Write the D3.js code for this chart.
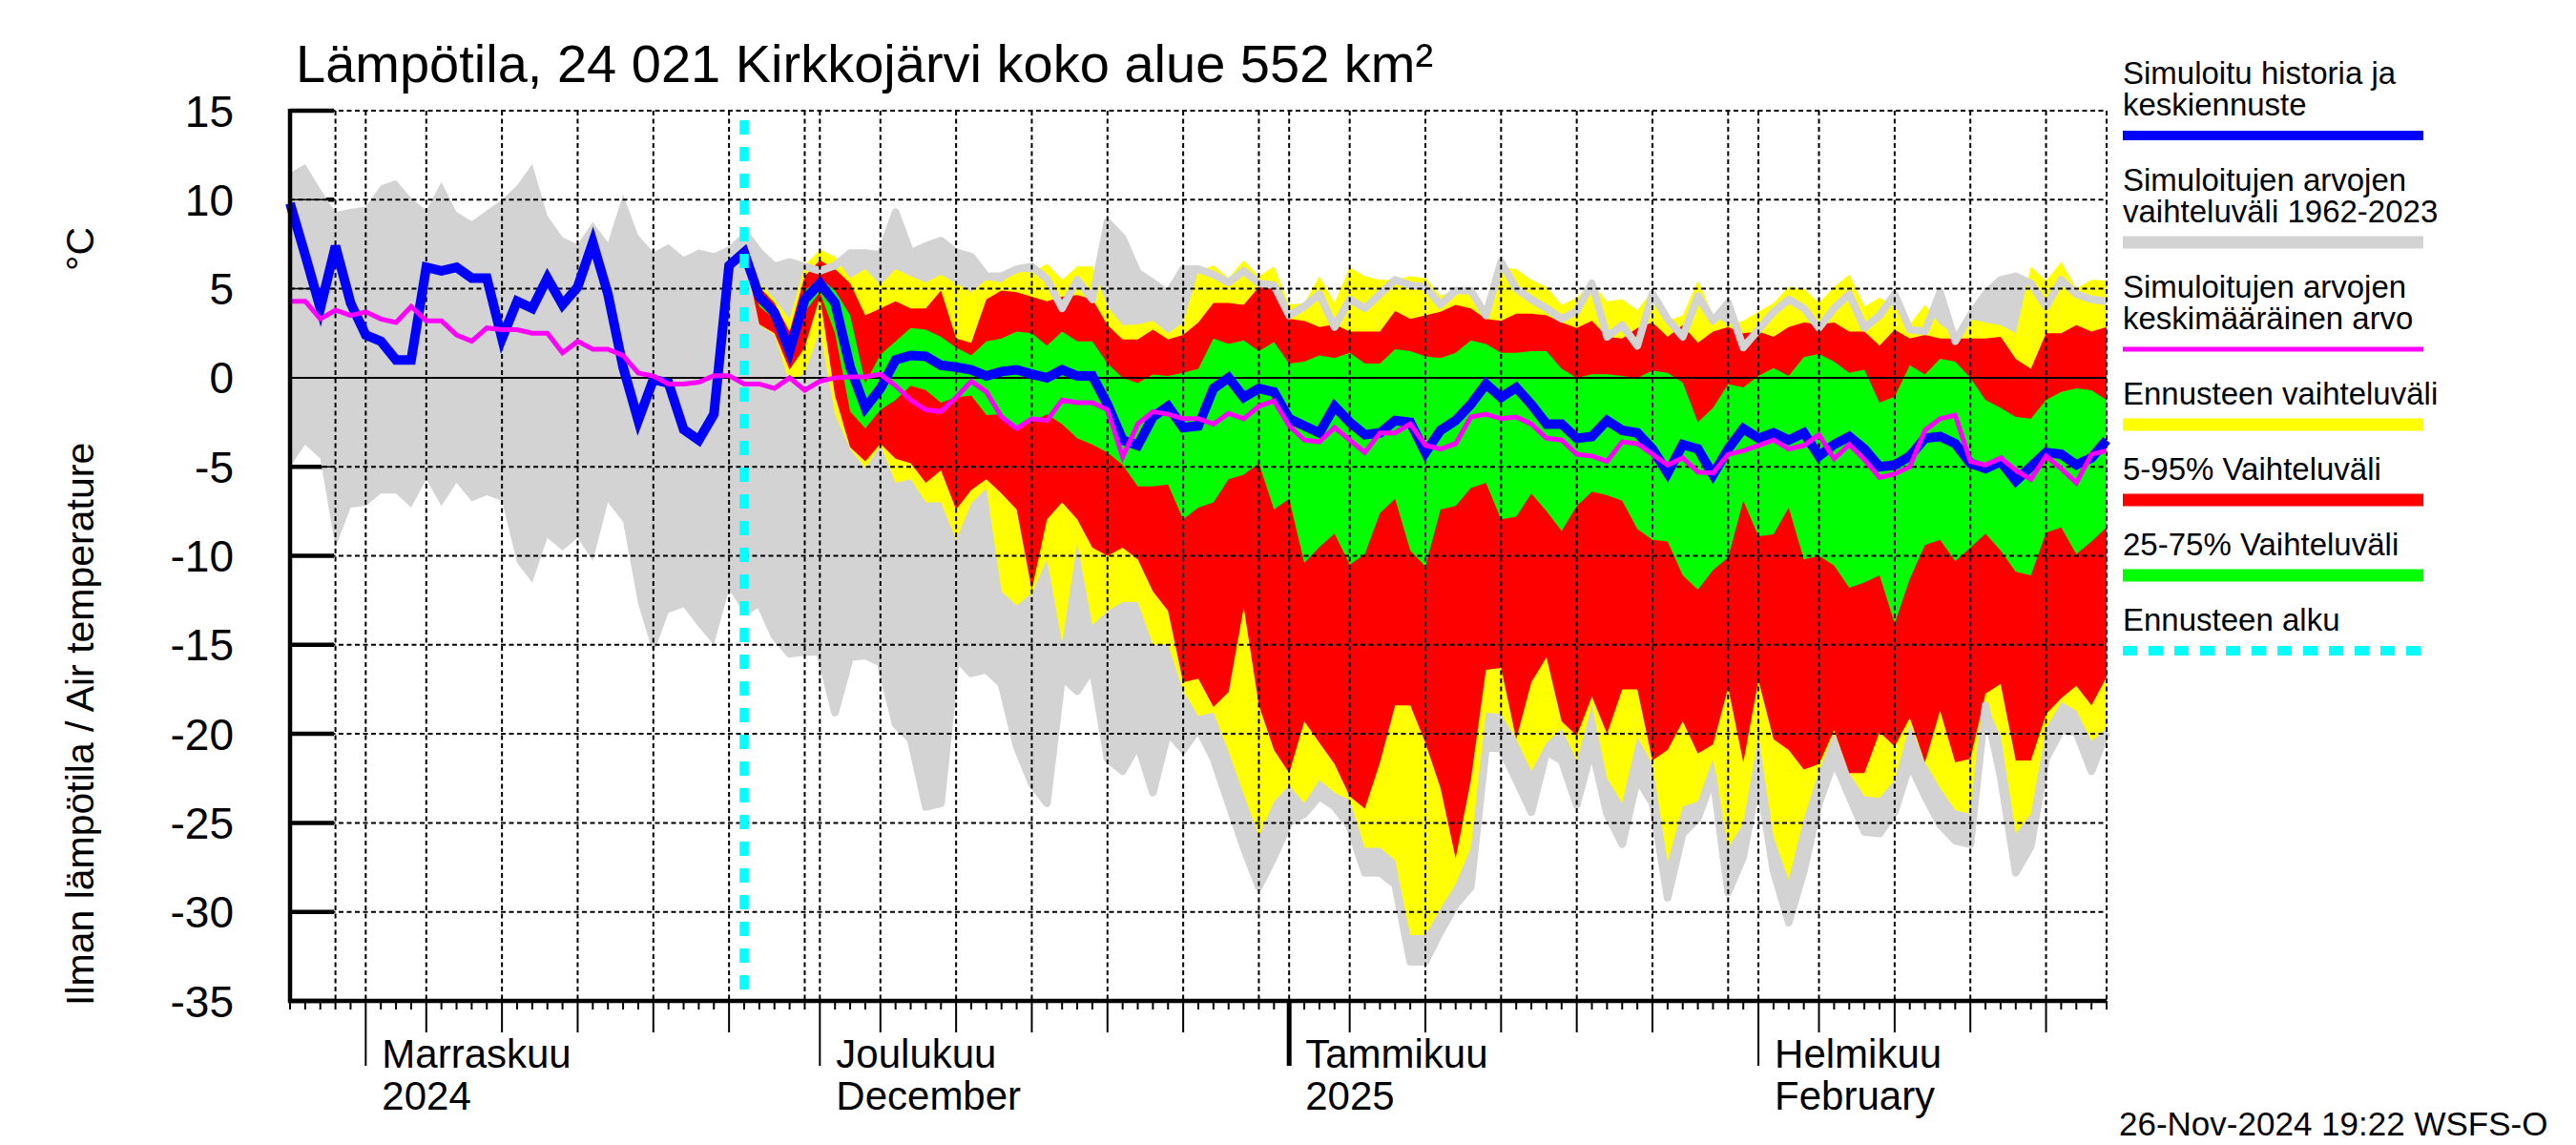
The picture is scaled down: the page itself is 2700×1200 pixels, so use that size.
<!DOCTYPE html>
<html>
<head>
<meta charset="utf-8">
<script src="https://cdnjs.cloudflare.com/ajax/libs/d3/7.8.5/d3.min.js"></script>
<style>
body { margin: 0; background: #fff; }
svg { display: block; font-family: "Liberation Sans", Arial, sans-serif; }
</style>
</head>
<body>
<svg width="2700" height="1200"></svg>
<script>
// paivittaiset arvot 27.10.2024 - 24.2.2025
var firstDay = "2024-10-27", lastDay = "2025-02-24", forecastDay = "2024-11-26";

// historia 1962-2023, max / min
var histMax = [11.5,12.0,10.6,9.3,9.5,9.6,10.8,11.1,10.1,9.4,
  11.0,9.3,8.8,9.4,10.0,10.8,12.0,9.1,7.9,7.5,
  8.75,7.6,10.3,8.0,7.05,7.5,6.8,7.2,7.0,7.4,
  8.2,7.05,6.25,6.5,6.25,6.0,6.3,7.0,7.0,6.9,
  9.3,7.0,7.4,7.7,7.05,6.8,5.7,5.7,6.1,6.25,
  5.55,3.9,5.5,4.4,8.75,7.85,5.9,5.35,4.7,6.1,
  6.1,5.8,5.35,6.0,5.3,5.2,3.5,4.0,4.7,2.85,
  4.4,3.9,4.7,5.5,5.2,5.1,4.1,4.9,4.9,3.5,
  6.5,5.0,4.4,3.9,3.3,3.75,5.3,2.3,2.95,1.8,
  4.7,3.3,2.3,4.6,3.2,4.2,1.7,2.7,3.7,4.4,
  3.9,2.8,3.9,4.7,2.8,3.5,4.7,2.7,2.6,4.8,
  2.05,3.5,4.7,5.5,5.7,5.3,4.0,5.5,4.7,4.4,
  4.3];
var histMin = [-5.0,-3.75,-4.55,-9.55,-7.3,-7.2,-6.5,-6.5,-7.3,-5.7,
  -7.2,-5.9,-6.95,-6.6,-6.9,-10.4,-11.5,-9.0,-9.7,-9.0,
  -10.3,-7.0,-8.1,-12.7,-15.5,-13.2,-12.9,-14.0,-15.0,-11.9,
  -13.2,-12.6,-14.5,-15.5,-15.4,-15.4,-18.8,-15.7,-15.6,-16.0,
  -19.45,-20.3,-24.1,-23.9,-15.7,-16.6,-16.4,-17.2,-20.7,-22.8,
  -23.9,-16.8,-17.6,-16.3,-21.4,-22.1,-20.6,-23.3,-19.9,-20.9,
  -19.7,-21.4,-23.9,-26.4,-28.6,-26.9,-25.0,-24.5,-23.5,-24.1,
  -25.2,-27.8,-27.8,-28.45,-32.8,-32.8,-31.1,-29.6,-28.6,-20.8,
  -20.8,-22.6,-24.4,-21.0,-21.5,-24.0,-20.8,-24.5,-26.2,-22.5,
  -23.9,-29.2,-25.6,-24.75,-22.4,-28.9,-26.9,-22.4,-27.7,-30.6,
  -27.7,-23.9,-21.5,-23.5,-25.5,-25.6,-24.4,-21.7,-23.5,-25.1,
  -26.0,-26.2,-18.4,-22.4,-27.8,-26.3,-21.4,-19.8,-19.9,-22.1,
  -19.9];

// simuloitujen arvojen keskiarvo (magenta)
var simMean = [4.3,4.3,3.3,3.8,3.5,3.7,3.3,3.1,4.0,3.2,
  3.2,2.4,2.05,2.8,2.7,2.7,2.5,2.5,1.4,2.05,
  1.6,1.6,1.25,0.27,0.1,-0.35,-0.35,-0.25,0.12,0.12,
  -0.35,-0.35,-0.6,0.0,-0.7,-0.2,0.0,0.05,0.05,0.2,
  -0.45,-1.25,-1.8,-1.9,-1.1,-0.2,-0.8,-2.2,-2.85,-2.3,
  -2.4,-1.25,-1.4,-1.4,-1.8,-4.45,-2.6,-1.9,-2.05,-2.3,
  -2.3,-2.6,-2.0,-2.3,-1.6,-1.3,-2.7,-3.5,-3.6,-2.8,
  -3.5,-4.2,-3.1,-3.1,-2.6,-3.8,-4.0,-3.7,-2.2,-2.05,
  -2.3,-2.2,-2.6,-3.4,-3.5,-4.3,-4.4,-4.7,-3.6,-3.7,
  -4.3,-4.9,-4.5,-5.3,-5.35,-4.3,-4.1,-3.8,-3.5,-4.0,
  -3.8,-3.2,-4.55,-3.75,-4.6,-5.6,-5.4,-5.0,-2.95,-2.3,
  -2.1,-4.7,-4.9,-4.5,-5.2,-5.7,-4.4,-5.1,-5.9,-4.3,
  -4.1];

// simuloitu historia + keskiennuste (sininen)
var median = [9.8,6.9,3.9,7.4,4.2,2.4,2.05,1.0,1.0,6.2,
  6.0,6.2,5.6,5.6,2.2,4.3,3.9,5.6,4.1,5.1,
  7.6,4.7,0.6,-2.4,-0.1,-0.3,-2.9,-3.5,-2.05,6.3,
  7.05,4.55,3.66,1.5,4.4,5.3,4.2,0.6,-1.7,-0.6,
  1.0,1.25,1.2,0.7,0.6,0.45,0.1,0.35,0.45,0.2,
  0.0,0.45,0.1,0.1,-1.5,-3.5,-3.8,-2.2,-1.6,-2.8,
  -2.7,-0.6,0.0,-1.1,-0.6,-0.8,-2.3,-2.7,-3.1,-1.6,
  -2.5,-3.2,-3.1,-2.4,-2.5,-4.2,-2.95,-2.4,-1.5,-0.35,
  -1.1,-0.55,-1.5,-2.6,-2.6,-3.4,-3.3,-2.4,-2.95,-3.1,
  -4.0,-5.35,-3.75,-4.0,-5.45,-4.0,-2.86,-3.4,-3.1,-3.5,
  -3.1,-4.4,-3.75,-3.3,-4.0,-5.0,-4.9,-4.4,-3.4,-3.3,
  -3.7,-4.8,-5.1,-4.7,-5.8,-5.0,-4.2,-4.3,-4.9,-4.5,
  -3.5];

// ennuste 26.11. alkaen
var fcMax = [7.0,5.35,4.4,3.3,6.3,7.2,6.8,5.6,6.1,5.2,
  6.1,5.7,5.35,5.8,5.3,4.8,5.5,5.35,6.0,5.9,
  6.4,5.5,6.25,6.25,4.0,2.95,3.0,3.2,2.5,3.1,
  6.0,6.3,5.6,6.6,5.7,6.25,4.1,4.2,5.7,4.2,
  6.2,5.7,5.5,5.5,5.7,5.6,4.6,4.9,4.8,3.7,
  6.2,6.1,5.5,5.1,4.1,4.5,5.3,4.3,4.4,3.8,
  4.9,3.2,3.5,5.45,3.5,3.0,3.2,3.7,4.2,5.1,
  5.0,4.2,5.1,5.8,4.0,4.5,4.0,3.0,4.1,3.0,
  2.4,3.3,3.1,2.95,2.5,6.25,5.45,6.5,5.0,5.5,
  5.45];
var p95 = [7.0,5.1,4.2,2.6,5.7,6.6,6.1,5.3,3.5,3.9,
  4.3,3.9,3.9,4.9,2.2,1.96,4.4,4.9,4.8,4.55,
  4.3,4.55,4.65,4.4,2.95,2.15,2.15,2.7,2.15,2.4,
  3.1,4.2,4.2,4.1,5.1,5.1,3.3,3.2,2.85,3.0,
  2.6,2.6,2.6,3.75,3.3,3.5,3.7,4.1,3.9,3.3,
  3.2,3.6,3.6,3.5,3.1,2.8,3.2,2.3,2.2,2.8,
  3.1,2.3,2.95,1.96,2.6,2.85,2.5,2.6,2.3,2.85,
  3.1,3.0,3.1,2.6,2.6,1.8,2.7,2.2,2.4,2.2,
  2.2,2.2,2.2,2.3,1.05,0.5,2.5,2.5,2.95,2.6,
  2.85];
var p75 = [7.0,4.7,3.8,1.9,4.9,5.6,4.9,3.5,-0.3,1.3,
  2.05,2.8,2.7,2.3,1.7,1.25,2.05,2.2,2.6,2.5,
  1.8,2.6,2.05,2.05,0.8,0.0,-0.3,0.18,0.1,0.27,
  0.5,2.2,1.9,2.1,1.5,2.0,0.8,0.9,1.25,1.1,
  1.4,0.8,0.8,1.6,1.5,1.2,1.1,1.4,2.1,1.9,
  1.4,1.4,1.5,1.5,0.5,0.0,0.2,0.2,0.1,0.0,
  0.4,0.27,-0.27,-2.5,-1.7,-0.36,-0.54,0.1,0.54,0.1,
  1.16,1.34,0.9,0.27,0.45,-1.4,-1.07,0.71,0.18,1.07,
  0.9,0.0,-1.25,-1.7,-2.2,-2.3,-1.25,-0.8,-0.6,-0.7,
  -1.25];
var p25 = [7.0,4.0,3.3,1.0,3.7,4.8,2.5,-1.9,-2.85,-1.8,
  -1.25,-0.45,-0.7,-1.4,-1.1,-1.0,-2.1,-2.05,-2.8,-2.5,
  -2.05,-2.6,-3.4,-3.75,-4.2,-4.9,-6.1,-6.1,-6.0,-7.95,
  -7.3,-7.0,-5.7,-5.45,-4.8,-7.4,-6.8,-10.4,-9.5,-8.75,
  -10.5,-9.9,-7.6,-6.8,-9.7,-10.6,-7.4,-7.2,-6.2,-5.9,
  -7.95,-7.8,-6.5,-7.5,-8.6,-7.2,-6.4,-6.6,-6.9,-8.5,
  -9.1,-9.2,-11.1,-11.9,-10.8,-10.1,-6.9,-8.9,-8.8,-7.3,
  -10.2,-10.0,-10.55,-11.8,-11.5,-11.1,-13.8,-11.3,-9.4,-9.1,
  -10.3,-9.55,-8.75,-9.7,-10.9,-11.1,-8.7,-8.4,-9.9,-9.2,
  -8.4];
var p05 = [7.0,3.0,2.5,0.45,1.7,4.55,-1.0,-3.9,-4.7,-3.7,
  -4.55,-4.8,-5.9,-5.2,-7.4,-6.3,-5.7,-6.5,-7.4,-11.9,
  -7.95,-7.0,-7.95,-9.55,-10.0,-9.55,-10.2,-12.0,-13.1,-17.1,
  -16.9,-18.5,-17.65,-12.9,-18.4,-20.9,-22.2,-19.3,-20.5,-21.7,
  -23.5,-24.2,-21.6,-18.4,-18.4,-20.5,-23.05,-27.0,-22.6,-16.4,
  -16.3,-20.3,-17.1,-15.7,-19.3,-20.1,-17.9,-20.0,-17.5,-17.5,
  -21.5,-20.9,-19.3,-21.1,-20.6,-17.4,-21.6,-17.0,-20.3,-20.9,
  -22.0,-21.7,-19.8,-22.2,-22.2,-19.9,-20.7,-19.1,-21.6,-18.7,
  -21.6,-21.4,-17.75,-17.2,-21.5,-21.5,-18.9,-18.0,-17.3,-18.4,
  -16.8];
var fcMin = [7.0,2.95,2.4,-0.27,0.27,2.7,-2.05,-4.0,-5.1,-3.8,
  -5.9,-5.7,-7.0,-7.0,-9.1,-7.05,-6.2,-12.0,-12.8,-12.1,
  -10.2,-14.9,-9.3,-13.9,-13.1,-12.6,-12.6,-15.0,-15.0,-17.6,
  -19.0,-18.8,-21.0,-23.4,-25.7,-23.8,-22.9,-23.9,-22.6,-23.3,
  -23.7,-26.4,-26.4,-27.1,-31.3,-31.3,-29.8,-28.45,-26.4,-18.8,
  -18.9,-20.3,-22.1,-20.5,-19.7,-21.5,-18.4,-22.5,-23.9,-20.2,
  -21.7,-27.2,-24.1,-23.8,-21.4,-26.4,-25.0,-20.1,-25.8,-28.2,
  -24.75,-22.1,-19.9,-22.2,-23.5,-23.6,-22.6,-19.45,-21.6,-23.05,
  -24.3,-24.5,-18.3,-20.1,-25.6,-24.5,-19.7,-18.2,-18.7,-20.4,
  -19.7];

var yTicks = [15, 10, 5, 0, -5, -10, -15, -20, -25, -30, -35];
var monthStarts = ["2024-11-01", "2024-12-01", "2025-01-01", "2025-02-01"];
var monthNames = ["Marraskuu", "Joulukuu", "Tammikuu", "Helmikuu"];
var monthSub = ["2024", "December", "2025", "February"];

var legendItems = [
  {lines: ["Simuloitu historia ja", "keskiennuste"], color: "#0000ff", w: 10},
  {lines: ["Simuloitujen arvojen", "vaihteluväli 1962-2023"], color: "#d3d3d3", w: 13},
  {lines: ["Simuloitujen arvojen", "keskimääräinen arvo"], color: "#ff00ff", w: 5},
  {lines: ["Ennusteen vaihteluväli"], color: "#ffff00", w: 13},
  {lines: ["5-95% Vaihteluväli"], color: "#ff0000", w: 13},
  {lines: ["25-75% Vaihteluväli"], color: "#00ff00", w: 13},
  {lines: ["Ennusteen alku"], color: "#00ffff", w: 10, dash: "15,12"}
];

var svg = d3.select("svg");
var plotL = 304, plotR = 2208, plotT = 116, plotB = 1049;

var parse = d3.utcParse("%Y-%m-%d");
var d0 = parse(firstDay), dEnd = parse(lastDay), dFc = parse(forecastDay);
var days = d3.utcDay.range(d0, d3.utcDay.offset(dEnd, 1));
var fcDays = d3.utcDay.range(dFc, d3.utcDay.offset(dEnd, 1));

var x = d3.scaleUtc().domain([d0, dEnd]).range([plotL, plotR]);
var y = d3.scaleLinear().domain([-35, 15]).range([plotB, plotT]);

// y-akselin paksut tikit (alle)
svg.append("g").selectAll("line").data(yTicks).enter().append("line")
  .attr("x1", plotL).attr("x2", plotL + 46)
  .attr("y1", function(d) { return y(d); }).attr("y2", function(d) { return y(d); })
  .attr("stroke", "#000").attr("stroke-width", 4.5);

function band(dates, lo, hi) {
  return d3.area()
    .x(function(d, i) { return x(dates[i]); })
    .y0(function(d, i) { return y(lo[i]); })
    .y1(function(d, i) { return y(hi[i]); })(lo);
}
function path(dates, vals) {
  return d3.line()
    .x(function(d, i) { return x(dates[i]); })
    .y(function(d) { return y(d); })(vals);
}

// alueet
svg.append("path").attr("d", band(days, histMin, histMax)).attr("fill", "#d3d3d3");
svg.append("path").attr("d", band(fcDays, fcMin, fcMax)).attr("fill", "#ffff00");
svg.append("path").attr("d", band(fcDays, p05, p95)).attr("fill", "#ff0000");
svg.append("path").attr("d", band(fcDays, p25, p75)).attr("fill", "#00ff00");

// historian rajat ennusteen paalle
var off = histMax.length - fcDays.length;
[histMax, histMin].forEach(function(arr) {
  svg.append("path").attr("d", path(fcDays, arr.slice(off)))
    .attr("fill", "none").attr("stroke", "#d3d3d3").attr("stroke-width", 8)
    .attr("stroke-linejoin", "round");
});

// ruudukko
var grid = svg.append("g").attr("stroke", "#000").attr("stroke-width", 2).attr("stroke-dasharray", "5,3.5");
grid.selectAll("line.h").data(yTicks.filter(function(d) { return d !== 0 && d !== -35; })).enter().append("line")
  .attr("x1", plotL).attr("x2", plotR)
  .attr("y1", function(d) { return y(d); }).attr("y2", function(d) { return y(d); });
var gridDays = days.filter(function(d) { var n = d.getUTCDate(); return n === 1 || n % 5 === 0; });
gridDays.push(dEnd);
grid.selectAll("line.v").data(gridDays).enter().append("line")
  .attr("x1", function(d) { return x(d); }).attr("x2", function(d) { return x(d); })
  .attr("y1", plotT).attr("y2", plotB);
svg.append("g").selectAll("line").data(yTicks.filter(function(d) { return d !== -35; })).enter().append("line")
  .attr("x1", plotL).attr("x2", plotL + 46)
  .attr("y1", function(d) { return y(d); }).attr("y2", function(d) { return y(d); })
  .attr("stroke", "#000").attr("stroke-width", 1.5);
svg.append("line").attr("x1", plotL).attr("x2", plotR).attr("y1", y(0)).attr("y2", y(0))
  .attr("stroke", "#000").attr("stroke-width", 2);

// viivat
svg.append("path").attr("d", path(days, median))
  .attr("fill", "none").attr("stroke", "#0000ff").attr("stroke-width", 10);
svg.append("path").attr("d", path(days, simMean))
  .attr("fill", "none").attr("stroke", "#ff00ff").attr("stroke-width", 5);

// ennusteen alku
svg.append("line").attr("x1", x(dFc)).attr("x2", x(dFc)).attr("y1", plotT + 10).attr("y2", plotB)
  .attr("stroke", "#00ffff").attr("stroke-width", 9.5).attr("stroke-dasharray", "15,13");

// akselit
svg.append("line").attr("x1", plotL).attr("x2", plotL).attr("y1", plotT - 2).attr("y2", plotB + 2)
  .attr("stroke", "#000").attr("stroke-width", 4.5);
svg.append("line").attr("x1", plotL - 2).attr("x2", plotR).attr("y1", plotB).attr("y2", plotB)
  .attr("stroke", "#000").attr("stroke-width", 4.5);

svg.append("g").selectAll("line").data(days).enter().append("line")
  .attr("x1", function(d) { return x(d); }).attr("x2", function(d) { return x(d); })
  .attr("y1", plotB)
  .attr("y2", function(d) {
    var n = d.getUTCDate();
    if (n === 1) return plotB + 68;
    if (n % 5 === 0 && n <= 25) return plotB + 33;
    return plotB + 9;
  })
  .attr("stroke", "#000")
  .attr("stroke-width", function(d) { return (d.getUTCDate() === 1 && d.getUTCMonth() === 0) ? 5 : 2; });

svg.append("g").attr("font-size", 46).attr("text-anchor", "end")
  .selectAll("text").data(yTicks).enter().append("text")
  .attr("x", 245).attr("y", function(d) { return y(d); }).attr("dy", "0.36em")
  .text(function(d) { return d; });

var mg = svg.append("g").attr("font-size", 42);
monthStarts.forEach(function(m, i) {
  var mx = x(parse(m)) + 17;
  mg.append("text").attr("x", mx).attr("y", 1119).text(monthNames[i]);
  mg.append("text").attr("x", mx).attr("y", 1163).text(monthSub[i]);
});

// otsikot
svg.append("text").attr("x", 310).attr("y", 86).attr("font-size", 56)
  .text("Lämpötila, 24 021 Kirkkojärvi koko alue 552 km²");
svg.append("text").attr("transform", "translate(98,1054) rotate(-90)").attr("font-size", 41)
  .text("Ilman lämpötila / Air temperature");
svg.append("text").attr("transform", "translate(98,238) rotate(-90)").attr("font-size", 41)
  .attr("text-anchor", "end").text("°C");
svg.append("text").attr("x", 2221).attr("y", 1190).attr("font-size", 35)
  .text("26-Nov-2024 19:22 WSFS-O");

// selite
var ly = 88;
var lg = svg.append("g").attr("font-size", 33);
legendItems.forEach(function(it) {
  it.lines.forEach(function(t, j) {
    lg.append("text").attr("x", 2225).attr("y", ly + j * 33).text(t);
  });
  var lineY = ly + (it.lines.length - 1) * 33 + 21;
  lg.append("line").attr("x1", 2225).attr("x2", 2540).attr("y1", lineY).attr("y2", lineY)
    .attr("stroke", it.color).attr("stroke-width", it.w)
    .attr("stroke-dasharray", it.dash || null);
  ly = lineY + 58;
});
</script>
</body>
</html>
